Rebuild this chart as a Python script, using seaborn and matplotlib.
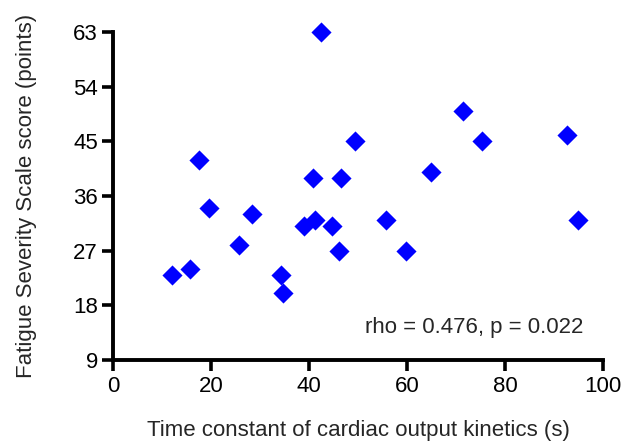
import matplotlib
matplotlib.use("Agg")
import matplotlib.pyplot as plt
import seaborn as sns
import pandas as pd

# values
tau_s = [12.1, 15.8, 17.6, 19.5, 25.7, 28.4, 34.2, 34.7, 38.9, 40.9, 41.2,
         42.4, 44.6, 46.1, 46.5, 49.3, 55.7, 59.9, 64.9, 71.4, 75.4, 92.6, 94.9]
fss_score = [23, 24, 42, 34, 28, 33, 23, 20, 31, 39, 32,
             63, 31, 27, 39, 45, 32, 27, 40, 50, 45, 46, 32]
x_ticks = [0, 20, 40, 60, 80, 100]
y_ticks = [9, 18, 27, 36, 45, 54, 63]
stat_text = "rho = 0.476, p = 0.022"

df = pd.DataFrame({"tau": tau_s, "fss": fss_score})

sns.set_style("ticks")
plt.rcParams["font.family"] = ["Liberation Sans", "DejaVu Sans"]

fig = plt.figure(figsize=(6.28, 4.42), dpi=100)
ax = fig.add_axes([0.18, 0.185, 0.78, 0.743])

sns.scatterplot(data=df, x="tau", y="fss", marker="D", s=105,
                color="#0000FF", linewidth=0, ax=ax, zorder=3, clip_on=False)

ax.set_xlim(0, 100)
ax.set_ylim(9, 63)
ax.set_xticks(x_ticks)
ax.set_yticks(y_ticks)
ax.set_xlabel("Time constant of cardiac output kinetics (s)", fontsize=16, labelpad=17)
ax.set_ylabel("Fatigue Severity Scale score (points)", fontsize=16, labelpad=26)
ax.tick_params(axis="both", labelsize=16, width=2.6, length=8, color="black",
               labelcolor="black", direction="out", pad=3)
for side in ["left", "bottom"]:
    ax.spines[side].set_linewidth(2.8)
    ax.spines[side].set_color("black")
    ax.spines[side].set_capstyle("projecting")
sns.despine(ax=ax)

ax.text(96, 14.4, stat_text, ha="right", va="center", fontsize=16)

fig.savefig("out.png", dpi=100)
